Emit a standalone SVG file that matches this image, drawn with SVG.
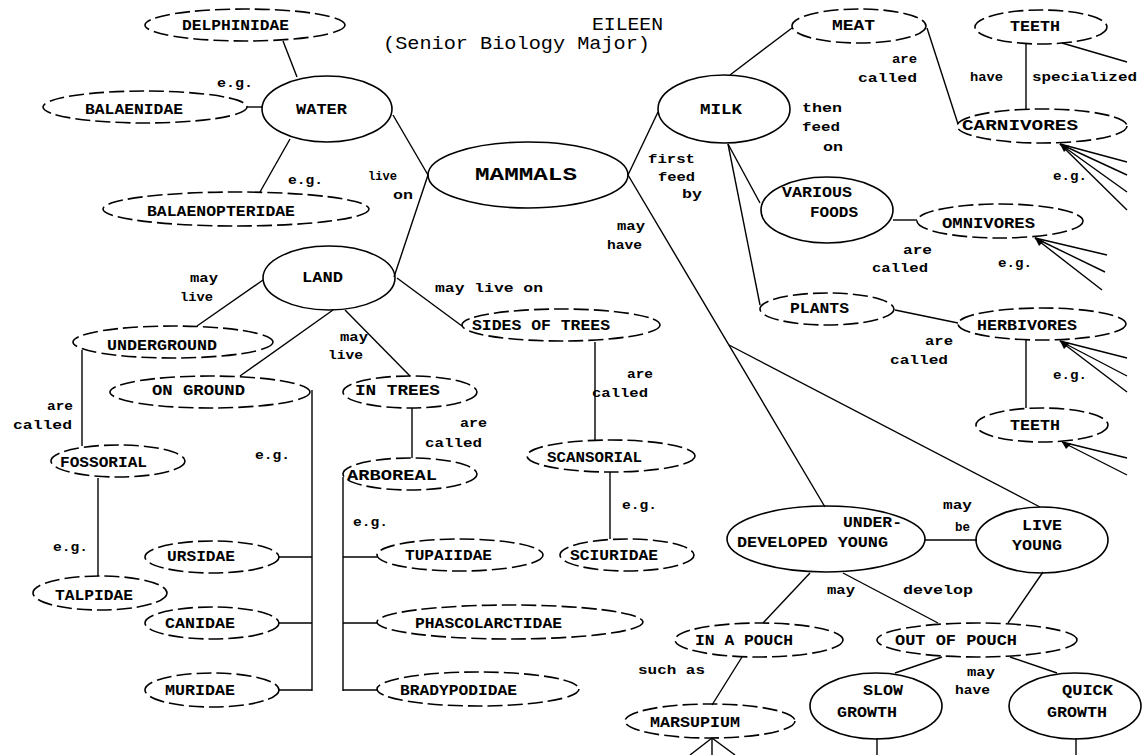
<svg xmlns="http://www.w3.org/2000/svg" width="1143" height="755" viewBox="0 0 1143 755">
<style>
.s{fill:none;stroke:#000;stroke-width:1.6}
.d{fill:none;stroke:#000;stroke-width:1.6;stroke-dasharray:15 5}
.c line{stroke:#000;stroke-width:1.4}
text{font-family:"Liberation Mono","DejaVu Sans Mono",monospace;fill:#000}
.n{font-size:14px;font-weight:bold}
.l{font-size:13px;font-weight:bold}
.m{font-size:19px;font-weight:bold}
.t{font-size:18px}
</style>
<rect width="1143" height="755" fill="#fff"/>
<g id="title">
<text class="t" x="592" y="30" textLength="71" lengthAdjust="spacingAndGlyphs">EILEEN</text>
<text class="t" x="383" y="49" textLength="267" lengthAdjust="spacingAndGlyphs">(Senior Biology Major)</text>
</g>
<g class="c" id="connectors">
<line x1="283" y1="41" x2="297" y2="77"/>
<line x1="247" y1="107" x2="262" y2="107"/>
<line x1="260" y1="192" x2="290" y2="139"/>
<line x1="393" y1="115" x2="428" y2="175"/>
<line x1="428" y1="175" x2="394" y2="277"/>
<line x1="628" y1="175" x2="658" y2="112"/>
<line x1="628" y1="175" x2="825" y2="507"/>
<line x1="729" y1="345" x2="1040" y2="507"/>
<line x1="730" y1="75" x2="792" y2="28"/>
<line x1="927" y1="28" x2="958" y2="124"/>
<line x1="1026" y1="43" x2="1026" y2="110"/>
<line x1="1062" y1="43" x2="1127" y2="62"/>
<line x1="1060" y1="144" x2="1127" y2="162"/>
<line x1="1060" y1="144" x2="1127" y2="175"/>
<line x1="1060" y1="144" x2="1127" y2="192"/>
<line x1="1060" y1="144" x2="1127" y2="210"/>
<line x1="728" y1="144" x2="760" y2="203"/>
<line x1="728" y1="144" x2="760" y2="305"/>
<line x1="893" y1="220" x2="917" y2="220"/>
<line x1="1035" y1="238" x2="1107" y2="255"/>
<line x1="1035" y1="238" x2="1105" y2="272"/>
<line x1="1035" y1="238" x2="1102" y2="290"/>
<line x1="895" y1="310" x2="958" y2="323"/>
<line x1="1026" y1="340" x2="1026" y2="408"/>
<line x1="1060" y1="341" x2="1127" y2="358"/>
<line x1="1060" y1="341" x2="1127" y2="376"/>
<line x1="1060" y1="341" x2="1127" y2="392"/>
<line x1="1062" y1="442" x2="1127" y2="458"/>
<line x1="1062" y1="442" x2="1127" y2="475"/>
<line x1="925" y1="540" x2="977" y2="540"/>
<line x1="810" y1="573" x2="763" y2="623"/>
<line x1="843" y1="573" x2="938" y2="623"/>
<line x1="1043" y1="572" x2="1008" y2="623"/>
<line x1="942" y1="657" x2="895" y2="673"/>
<line x1="1010" y1="657" x2="1057" y2="673"/>
<line x1="877" y1="738" x2="877" y2="755"/>
<line x1="1076" y1="738" x2="1076" y2="755"/>
<line x1="742" y1="657" x2="712" y2="705"/>
<line x1="712" y1="738" x2="690" y2="755"/>
<line x1="712" y1="738" x2="712" y2="755"/>
<line x1="712" y1="738" x2="735" y2="755"/>
<line x1="263" y1="280" x2="197" y2="326"/>
<line x1="333" y1="310" x2="240" y2="376"/>
<line x1="345" y1="310" x2="410" y2="376"/>
<line x1="397" y1="278" x2="462" y2="326"/>
<line x1="82" y1="350" x2="82" y2="446"/>
<line x1="98" y1="478" x2="98" y2="576"/>
<line x1="312" y1="390" x2="312" y2="691"/>
<line x1="278" y1="557" x2="312" y2="557"/>
<line x1="278" y1="623" x2="312" y2="623"/>
<line x1="278" y1="690" x2="312" y2="690"/>
<line x1="412" y1="408" x2="412" y2="458"/>
<line x1="343" y1="477" x2="343" y2="691"/>
<line x1="343" y1="557" x2="377" y2="557"/>
<line x1="343" y1="623" x2="377" y2="623"/>
<line x1="343" y1="690" x2="377" y2="690"/>
<line x1="595" y1="342" x2="595" y2="440"/>
<line x1="610" y1="472" x2="610" y2="539"/>
<polygon points="1060,144 1070,146 1064,152" fill="#000"/>
<polygon points="1035,238 1044,241 1039,246" fill="#000"/>
<polygon points="1060,341 1070,343 1064,349" fill="#000"/>
<polygon points="1062,442 1071,444 1066,449" fill="#000"/>
</g>
<g id="labels" class="l">
<text x="217" y="87" textLength="36" lengthAdjust="spacingAndGlyphs">e.g.</text>
<text x="288" y="184" textLength="35" lengthAdjust="spacingAndGlyphs">e.g.</text>
<text x="368" y="180" textLength="29" lengthAdjust="spacingAndGlyphs">live</text>
<text x="393" y="199" textLength="20" lengthAdjust="spacingAndGlyphs">on</text>
<text x="648" y="163" textLength="47" lengthAdjust="spacingAndGlyphs">first</text>
<text x="658" y="181" textLength="37" lengthAdjust="spacingAndGlyphs">feed</text>
<text x="682" y="198" textLength="20" lengthAdjust="spacingAndGlyphs">by</text>
<text x="617" y="230" textLength="28" lengthAdjust="spacingAndGlyphs">may</text>
<text x="607" y="249" textLength="35" lengthAdjust="spacingAndGlyphs">have</text>
<text x="802" y="112" textLength="40" lengthAdjust="spacingAndGlyphs">then</text>
<text x="802" y="131" textLength="38" lengthAdjust="spacingAndGlyphs">feed</text>
<text x="823" y="151" textLength="20" lengthAdjust="spacingAndGlyphs">on</text>
<text x="892" y="63" textLength="25" lengthAdjust="spacingAndGlyphs">are</text>
<text x="858" y="82" textLength="59" lengthAdjust="spacingAndGlyphs">called</text>
<text x="970" y="81" textLength="33" lengthAdjust="spacingAndGlyphs">have</text>
<text x="1032" y="81" textLength="105" lengthAdjust="spacingAndGlyphs">specialized</text>
<text x="1053" y="180" textLength="34" lengthAdjust="spacingAndGlyphs">e.g.</text>
<text x="903" y="254" textLength="29" lengthAdjust="spacingAndGlyphs">are</text>
<text x="872" y="272" textLength="56" lengthAdjust="spacingAndGlyphs">called</text>
<text x="998" y="267" textLength="34" lengthAdjust="spacingAndGlyphs">e.g.</text>
<text x="925" y="345" textLength="28" lengthAdjust="spacingAndGlyphs">are</text>
<text x="890" y="364" textLength="58" lengthAdjust="spacingAndGlyphs">called</text>
<text x="1053" y="379" textLength="34" lengthAdjust="spacingAndGlyphs">e.g.</text>
<text x="190" y="282" textLength="28" lengthAdjust="spacingAndGlyphs">may</text>
<text x="180" y="301" textLength="33" lengthAdjust="spacingAndGlyphs">live</text>
<text x="340" y="341" textLength="28" lengthAdjust="spacingAndGlyphs">may</text>
<text x="328" y="359" textLength="35" lengthAdjust="spacingAndGlyphs">live</text>
<text x="435" y="292" textLength="108" lengthAdjust="spacingAndGlyphs">may live on</text>
<text x="47" y="410" textLength="26" lengthAdjust="spacingAndGlyphs">are</text>
<text x="13" y="429" textLength="59" lengthAdjust="spacingAndGlyphs">called</text>
<text x="255" y="459" textLength="35" lengthAdjust="spacingAndGlyphs">e.g.</text>
<text x="460" y="427" textLength="27" lengthAdjust="spacingAndGlyphs">are</text>
<text x="425" y="447" textLength="57" lengthAdjust="spacingAndGlyphs">called</text>
<text x="627" y="378" textLength="26" lengthAdjust="spacingAndGlyphs">are</text>
<text x="592" y="397" textLength="56" lengthAdjust="spacingAndGlyphs">called</text>
<text x="622" y="509" textLength="35" lengthAdjust="spacingAndGlyphs">e.g.</text>
<text x="53" y="551" textLength="35" lengthAdjust="spacingAndGlyphs">e.g.</text>
<text x="353" y="526" textLength="35" lengthAdjust="spacingAndGlyphs">e.g.</text>
<text x="943" y="509" textLength="29" lengthAdjust="spacingAndGlyphs">may</text>
<text x="955" y="531" textLength="15" lengthAdjust="spacingAndGlyphs">be</text>
<text x="827" y="594" textLength="28" lengthAdjust="spacingAndGlyphs">may</text>
<text x="903" y="594" textLength="70" lengthAdjust="spacingAndGlyphs">develop</text>
<text x="638" y="674" textLength="67" lengthAdjust="spacingAndGlyphs">such as</text>
<text x="967" y="676" textLength="28" lengthAdjust="spacingAndGlyphs">may</text>
<text x="955" y="694" textLength="35" lengthAdjust="spacingAndGlyphs">have</text>
</g>
<g id="mammals"><ellipse class="s" cx="528" cy="175" rx="100" ry="33"/><text class="m" x="475" y="180" textLength="102" lengthAdjust="spacingAndGlyphs">MAMMALS</text></g>
<g id="water"><ellipse class="s" cx="327" cy="109" rx="65" ry="33"/><text class="n" x="296" y="114" textLength="51" lengthAdjust="spacingAndGlyphs">WATER</text></g>
<g id="land"><ellipse class="s" cx="329" cy="278" rx="66" ry="32"/><text class="n" x="302" y="282" textLength="41" lengthAdjust="spacingAndGlyphs">LAND</text></g>
<g id="milk"><ellipse class="s" cx="724" cy="109" rx="66" ry="34"/><text class="n" x="700" y="114" textLength="42" lengthAdjust="spacingAndGlyphs">MILK</text></g>
<g id="various-foods"><ellipse class="s" cx="827" cy="210" rx="66" ry="33"/><text class="n" x="782" y="197" textLength="70" lengthAdjust="spacingAndGlyphs">VARIOUS</text><text class="n" x="810" y="217" textLength="48" lengthAdjust="spacingAndGlyphs">FOODS</text></g>
<g id="underdeveloped-young"><ellipse class="s" cx="826" cy="539" rx="99" ry="33"/><text class="n" x="843" y="527" textLength="59" lengthAdjust="spacingAndGlyphs">UNDER-</text><text class="n" x="737" y="547" textLength="151" lengthAdjust="spacingAndGlyphs">DEVELOPED YOUNG</text></g>
<g id="live-young"><ellipse class="s" cx="1042" cy="540" rx="66" ry="33"/><text class="n" x="1022" y="530" textLength="40" lengthAdjust="spacingAndGlyphs">LIVE</text><text class="n" x="1012" y="550" textLength="50" lengthAdjust="spacingAndGlyphs">YOUNG</text></g>
<g id="slow-growth"><ellipse class="s" cx="876" cy="706" rx="66" ry="33"/><text class="n" x="863" y="695" textLength="40" lengthAdjust="spacingAndGlyphs">SLOW</text><text class="n" x="837" y="717" textLength="60" lengthAdjust="spacingAndGlyphs">GROWTH</text></g>
<g id="quick-growth"><ellipse class="s" cx="1075" cy="706" rx="66" ry="33"/><text class="n" x="1062" y="695" textLength="51" lengthAdjust="spacingAndGlyphs">QUICK</text><text class="n" x="1047" y="717" textLength="60" lengthAdjust="spacingAndGlyphs">GROWTH</text></g>
<g id="delphinidae"><ellipse class="d" cx="245" cy="25" rx="100" ry="16"/><text class="n" x="182" y="30" textLength="107" lengthAdjust="spacingAndGlyphs">DELPHINIDAE</text></g>
<g id="balaenidae"><ellipse class="d" cx="145" cy="107" rx="102" ry="16"/><text class="n" x="85" y="114" textLength="98" lengthAdjust="spacingAndGlyphs">BALAENIDAE</text></g>
<g id="balaenopteridae"><ellipse class="d" cx="236" cy="209" rx="133" ry="17"/><text class="n" x="147" y="216" textLength="148" lengthAdjust="spacingAndGlyphs">BALAENOPTERIDAE</text></g>
<g id="meat"><ellipse class="d" cx="859" cy="26" rx="67" ry="17"/><text class="n" x="832" y="30" textLength="43" lengthAdjust="spacingAndGlyphs">MEAT</text></g>
<g id="teeth-1"><ellipse class="d" cx="1041" cy="27" rx="66" ry="17"/><text class="n" x="1010" y="31" textLength="50" lengthAdjust="spacingAndGlyphs">TEETH</text></g>
<g id="carnivores"><ellipse class="d" cx="1042" cy="126" rx="85" ry="17"/><text class="n" x="962" y="130" textLength="116" lengthAdjust="spacingAndGlyphs">CARNIVORES</text></g>
<g id="omnivores"><ellipse class="d" cx="1000" cy="221" rx="83" ry="17"/><text class="n" x="942" y="228" textLength="93" lengthAdjust="spacingAndGlyphs">OMNIVORES</text></g>
<g id="plants"><ellipse class="d" cx="827" cy="309" rx="67" ry="16"/><text class="n" x="790" y="313" textLength="59" lengthAdjust="spacingAndGlyphs">PLANTS</text></g>
<g id="herbivores"><ellipse class="d" cx="1042" cy="324" rx="84" ry="16"/><text class="n" x="977" y="330" textLength="100" lengthAdjust="spacingAndGlyphs">HERBIVORES</text></g>
<g id="teeth-2"><ellipse class="d" cx="1042" cy="425" rx="66" ry="17"/><text class="n" x="1010" y="430" textLength="50" lengthAdjust="spacingAndGlyphs">TEETH</text></g>
<g id="underground"><ellipse class="d" cx="173" cy="342" rx="100" ry="16"/><text class="n" x="107" y="350" textLength="110" lengthAdjust="spacingAndGlyphs">UNDERGROUND</text></g>
<g id="on-ground"><ellipse class="d" cx="210" cy="392" rx="100" ry="16"/><text class="n" x="152" y="395" textLength="93" lengthAdjust="spacingAndGlyphs">ON GROUND</text></g>
<g id="in-trees"><ellipse class="d" cx="410" cy="392" rx="67" ry="16"/><text class="n" x="355" y="395" textLength="85" lengthAdjust="spacingAndGlyphs">IN TREES</text></g>
<g id="sides-of-trees"><ellipse class="d" cx="561" cy="325" rx="99" ry="16"/><text class="n" x="472" y="330" textLength="138" lengthAdjust="spacingAndGlyphs">SIDES OF TREES</text></g>
<g id="fossorial"><ellipse class="d" cx="118" cy="461" rx="67" ry="16"/><text class="n" x="60" y="467" textLength="87" lengthAdjust="spacingAndGlyphs">FOSSORIAL</text></g>
<g id="arboreal"><ellipse class="d" cx="410" cy="474" rx="67" ry="16"/><text class="n" x="347" y="480" textLength="90" lengthAdjust="spacingAndGlyphs">ARBOREAL</text></g>
<g id="scansorial"><ellipse class="d" cx="611" cy="456" rx="84" ry="16"/><text class="n" x="547" y="462" textLength="95" lengthAdjust="spacingAndGlyphs">SCANSORIAL</text></g>
<g id="sciuridae"><ellipse class="d" cx="627" cy="555" rx="67" ry="16"/><text class="n" x="570" y="560" textLength="88" lengthAdjust="spacingAndGlyphs">SCIURIDAE</text></g>
<g id="tupaiidae"><ellipse class="d" cx="460" cy="555" rx="83" ry="16"/><text class="n" x="405" y="560" textLength="87" lengthAdjust="spacingAndGlyphs">TUPAIIDAE</text></g>
<g id="phascolarctidae"><ellipse class="d" cx="510" cy="622" rx="133" ry="17"/><text class="n" x="415" y="628" textLength="147" lengthAdjust="spacingAndGlyphs">PHASCOLARCTIDAE</text></g>
<g id="bradypodidae"><ellipse class="d" cx="478" cy="689" rx="101" ry="17"/><text class="n" x="400" y="695" textLength="117" lengthAdjust="spacingAndGlyphs">BRADYPODIDAE</text></g>
<g id="talpidae"><ellipse class="d" cx="100" cy="593" rx="67" ry="17"/><text class="n" x="55" y="600" textLength="78" lengthAdjust="spacingAndGlyphs">TALPIDAE</text></g>
<g id="ursidae"><ellipse class="d" cx="212" cy="557" rx="67" ry="16"/><text class="n" x="167" y="561" textLength="68" lengthAdjust="spacingAndGlyphs">URSIDAE</text></g>
<g id="canidae"><ellipse class="d" cx="212" cy="623" rx="67" ry="16"/><text class="n" x="165" y="628" textLength="70" lengthAdjust="spacingAndGlyphs">CANIDAE</text></g>
<g id="muridae"><ellipse class="d" cx="212" cy="690" rx="67" ry="17"/><text class="n" x="165" y="695" textLength="70" lengthAdjust="spacingAndGlyphs">MURIDAE</text></g>
<g id="in-a-pouch"><ellipse class="d" cx="759" cy="640" rx="84" ry="17"/><text class="n" x="695" y="645" textLength="98" lengthAdjust="spacingAndGlyphs">IN A POUCH</text></g>
<g id="out-of-pouch"><ellipse class="d" cx="977" cy="640" rx="100" ry="17"/><text class="n" x="895" y="645" textLength="122" lengthAdjust="spacingAndGlyphs">OUT OF POUCH</text></g>
<g id="marsupium"><ellipse class="d" cx="710" cy="721" rx="85" ry="17"/><text class="n" x="650" y="727" textLength="90" lengthAdjust="spacingAndGlyphs">MARSUPIUM</text></g>
</svg>
